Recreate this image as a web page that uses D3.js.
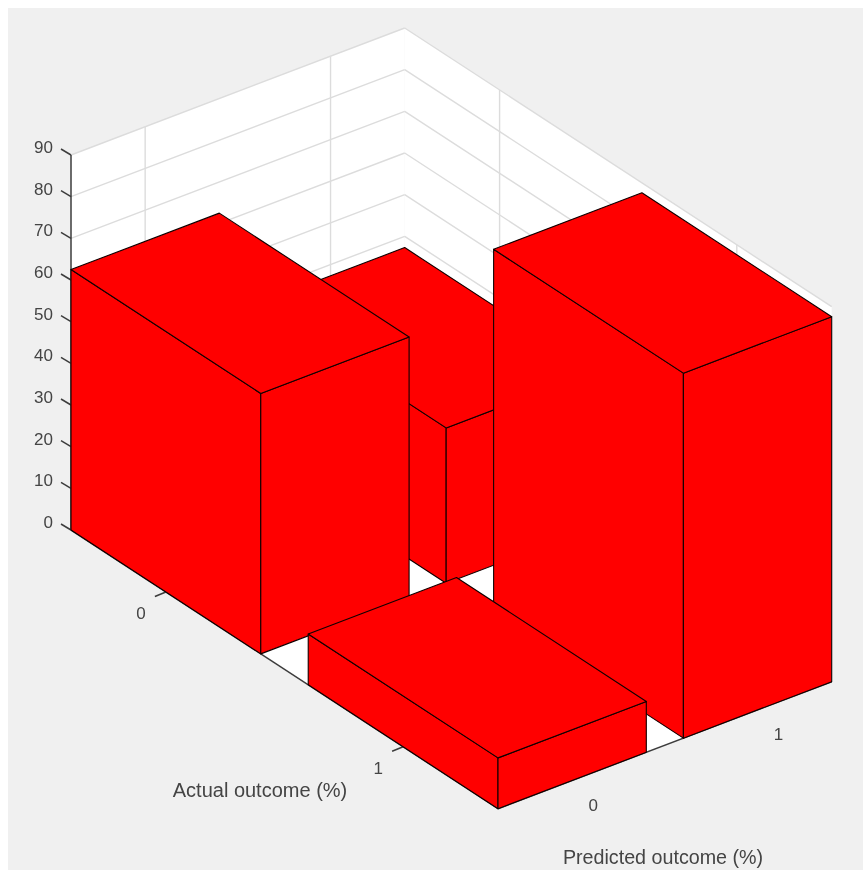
<!DOCTYPE html>
<html>
<head>
<meta charset="utf-8">
<script src="https://cdn.jsdelivr.net/npm/d3@7"></script>
<style>
  body { margin: 0; background: #fff; }
  text { font-family: "Liberation Sans", Arial, sans-serif; fill: #444; }
</style>
</head>
<body>
<div class="box"></div>
<script>
// Data
const actualTicks = [1, 2];
const predictedTicks = [1, 2];
const actualLabels = ['0', '1'];
const predictedLabels = ['0', '1'];
const zTicks = [0, 10, 20, 30, 40, 50, 60, 70, 80, 90];
const barActual = [1, 1, 2, 2];
const barPredicted = [1, 2, 1, 2];
const barValues = [62.5, 37.3, 12.2, 87.6];

const barHalf = 0.4;
const width = 863;
const height = 870;

const svg = d3.select('.box')
              .append('svg')
              .attr('width', width)
              .attr('height', height)
              .style('display', 'block');

svg.append('rect')
   .attr('x', 8)
   .attr('y', 8)
   .attr('width', width - 8)
   .attr('height', height - 8)
   .attr('fill', '#f0f0f0');

// Projection: fractions along the two floor edges plus a height scale
const origin = [71, 530];
const actualVec = [427, 278.7];
const predictedVec = [333.7, -127];

const a = d3.scaleLinear().domain([0.6, 2.4]).range([0, 1]);
const p = d3.scaleLinear().domain([0.6, 2.4]).range([0, 1]);
const z = d3.scaleLinear().domain([0, 90]).range([0, 375]);

const project = (av, pv, zv) => [
  origin[0] + a(av) * actualVec[0] + p(pv) * predictedVec[0],
  origin[1] + a(av) * actualVec[1] + p(pv) * predictedVec[1] - z(zv)
];

const poly = (g, pts, fill, stroke, sw) => g.append('polygon')
  .attr('points', pts.map(q => q.join(',')).join(' '))
  .attr('fill', fill)
  .attr('stroke', stroke)
  .attr('stroke-width', sw)
  .attr('stroke-linejoin', 'round');

const line = (g, q1, q2, stroke, sw) => g.append('line')
  .attr('x1', q1[0]).attr('y1', q1[1])
  .attr('x2', q2[0]).attr('y2', q2[1])
  .attr('stroke', stroke)
  .attr('stroke-width', sw);

const [a0, a1] = a.domain();
const [p0, p1] = p.domain();
const zTop = z.domain()[1];

const plot = svg.append('g').attr('filter', 'url(#soft)');
const defs = svg.append('defs');
defs.append('filter').attr('id', 'soft')
    .attr('filterUnits', 'userSpaceOnUse')
    .attr('x', 0).attr('y', 0)
    .attr('width', width).attr('height', height)
    .append('feGaussianBlur').attr('stdDeviation', 0.6);

// Walls and floor
poly(plot, [project(a0, p0, 0), project(a0, p1, 0), project(a0, p1, zTop), project(a0, p0, zTop)], '#fff', 'none', 0);
poly(plot, [project(a0, p1, 0), project(a1, p1, 0), project(a1, p1, zTop), project(a0, p1, zTop)], '#fff', 'none', 0);
poly(plot, [project(a0, p0, 0), project(a1, p0, 0), project(a1, p1, 0), project(a0, p1, 0)], '#fff', 'none', 0);

// Grid
const gridColor = '#dcdcdc';
zTicks.forEach(t => {
  line(plot, project(a0, p0, t), project(a0, p1, t), gridColor, 1.4);
  line(plot, project(a0, p1, t), project(a1, p1, t), gridColor, 1.4);
});
predictedTicks.forEach(t => {
  line(plot, project(a0, t, 0), project(a0, t, zTop), gridColor, 1.4);
  line(plot, project(a0, t, 0), project(a1, t, 0), gridColor, 1.4);
});
actualTicks.forEach(t => {
  line(plot, project(t, p1, 0), project(t, p1, zTop), gridColor, 1.4);
  line(plot, project(t, p0, 0), project(t, p1, 0), gridColor, 1.4);
});

// Axes
const axisColor = '#3c3c3c';
line(plot, project(a0, p0, 0), project(a0, p0, zTop), axisColor, 1.5);
line(plot, project(a0, p0, 0), project(a1, p0, 0), axisColor, 1.5);
line(plot, project(a1, p0, 0), project(a1, p1, 0), axisColor, 1.5);

zTicks.forEach(t => {
  const q = project(a0, p0, t);
  line(plot, q, [q[0] - 10, q[1] - 6], axisColor, 1.5);
});
actualTicks.forEach(t => {
  const q = project(t, p0, 0);
  line(plot, q, [q[0] - 11, q[1] + 4.5], axisColor, 1.5);
});
predictedTicks.forEach(t => {
  const q = project(a1, t, 0);
  line(plot, q, [q[0] - 10, q[1] - 7], axisColor, 1.5);
});

// Bars, back to front
const bars = d3.range(barValues.length)
  .map(i => ({a: barActual[i], p: barPredicted[i], v: barValues[i]}))
  .sort((m, n) => (m.a - m.p) - (n.a - n.p));

const edge = '#100000';
bars.forEach(b => {
  const x0 = b.a - barHalf, x1 = b.a + barHalf;
  const y0 = b.p - barHalf, y1 = b.p + barHalf;
  const g = plot.append('g');
  poly(g, [project(x0, y0, 0), project(x1, y0, 0), project(x1, y0, b.v), project(x0, y0, b.v)], '#ff0000', edge, 1.1);
  poly(g, [project(x1, y0, 0), project(x1, y1, 0), project(x1, y1, b.v), project(x1, y0, b.v)], '#ff0000', edge, 1.1);
  poly(g, [project(x0, y0, b.v), project(x1, y0, b.v), project(x1, y1, b.v), project(x0, y1, b.v)], '#ff0000', edge, 1.1);
});

// Tick labels
const labels = svg.append('g').attr('filter', 'url(#soft)');

zTicks.forEach(t => {
  const q = project(a0, p0, t);
  labels.append('text')
    .attr('x', q[0] - 18)
    .attr('y', q[1] - 8)
    .attr('dy', '0.35em')
    .attr('text-anchor', 'end')
    .attr('font-size', 17)
    .text(t);
});
actualTicks.forEach((t, i) => {
  const q = project(t, p0, 0);
  labels.append('text')
    .attr('x', q[0] - 25)
    .attr('y', q[1] + 21.5)
    .attr('dy', '0.35em')
    .attr('text-anchor', 'middle')
    .attr('font-size', 17)
    .text(actualLabels[i]);
});
predictedTicks.forEach((t, i) => {
  const q = project(a1, t, 0);
  labels.append('text')
    .attr('x', q[0] + 21)
    .attr('y', q[1] + 24.5)
    .attr('dy', '0.35em')
    .attr('text-anchor', 'middle')
    .attr('font-size', 17)
    .text(predictedLabels[i]);
});

// Axis titles
labels.append('text')
  .attr('x', 260)
  .attr('y', 790)
  .attr('dy', '0.35em')
  .attr('text-anchor', 'middle')
  .attr('font-size', 20)
  .text('Actual outcome (%)');

labels.append('text')
  .attr('x', 663)
  .attr('y', 857)
  .attr('dy', '0.35em')
  .attr('text-anchor', 'middle')
  .attr('font-size', 19.7)
  .text('Predicted outcome (%)');
</script>
</body>
</html>
